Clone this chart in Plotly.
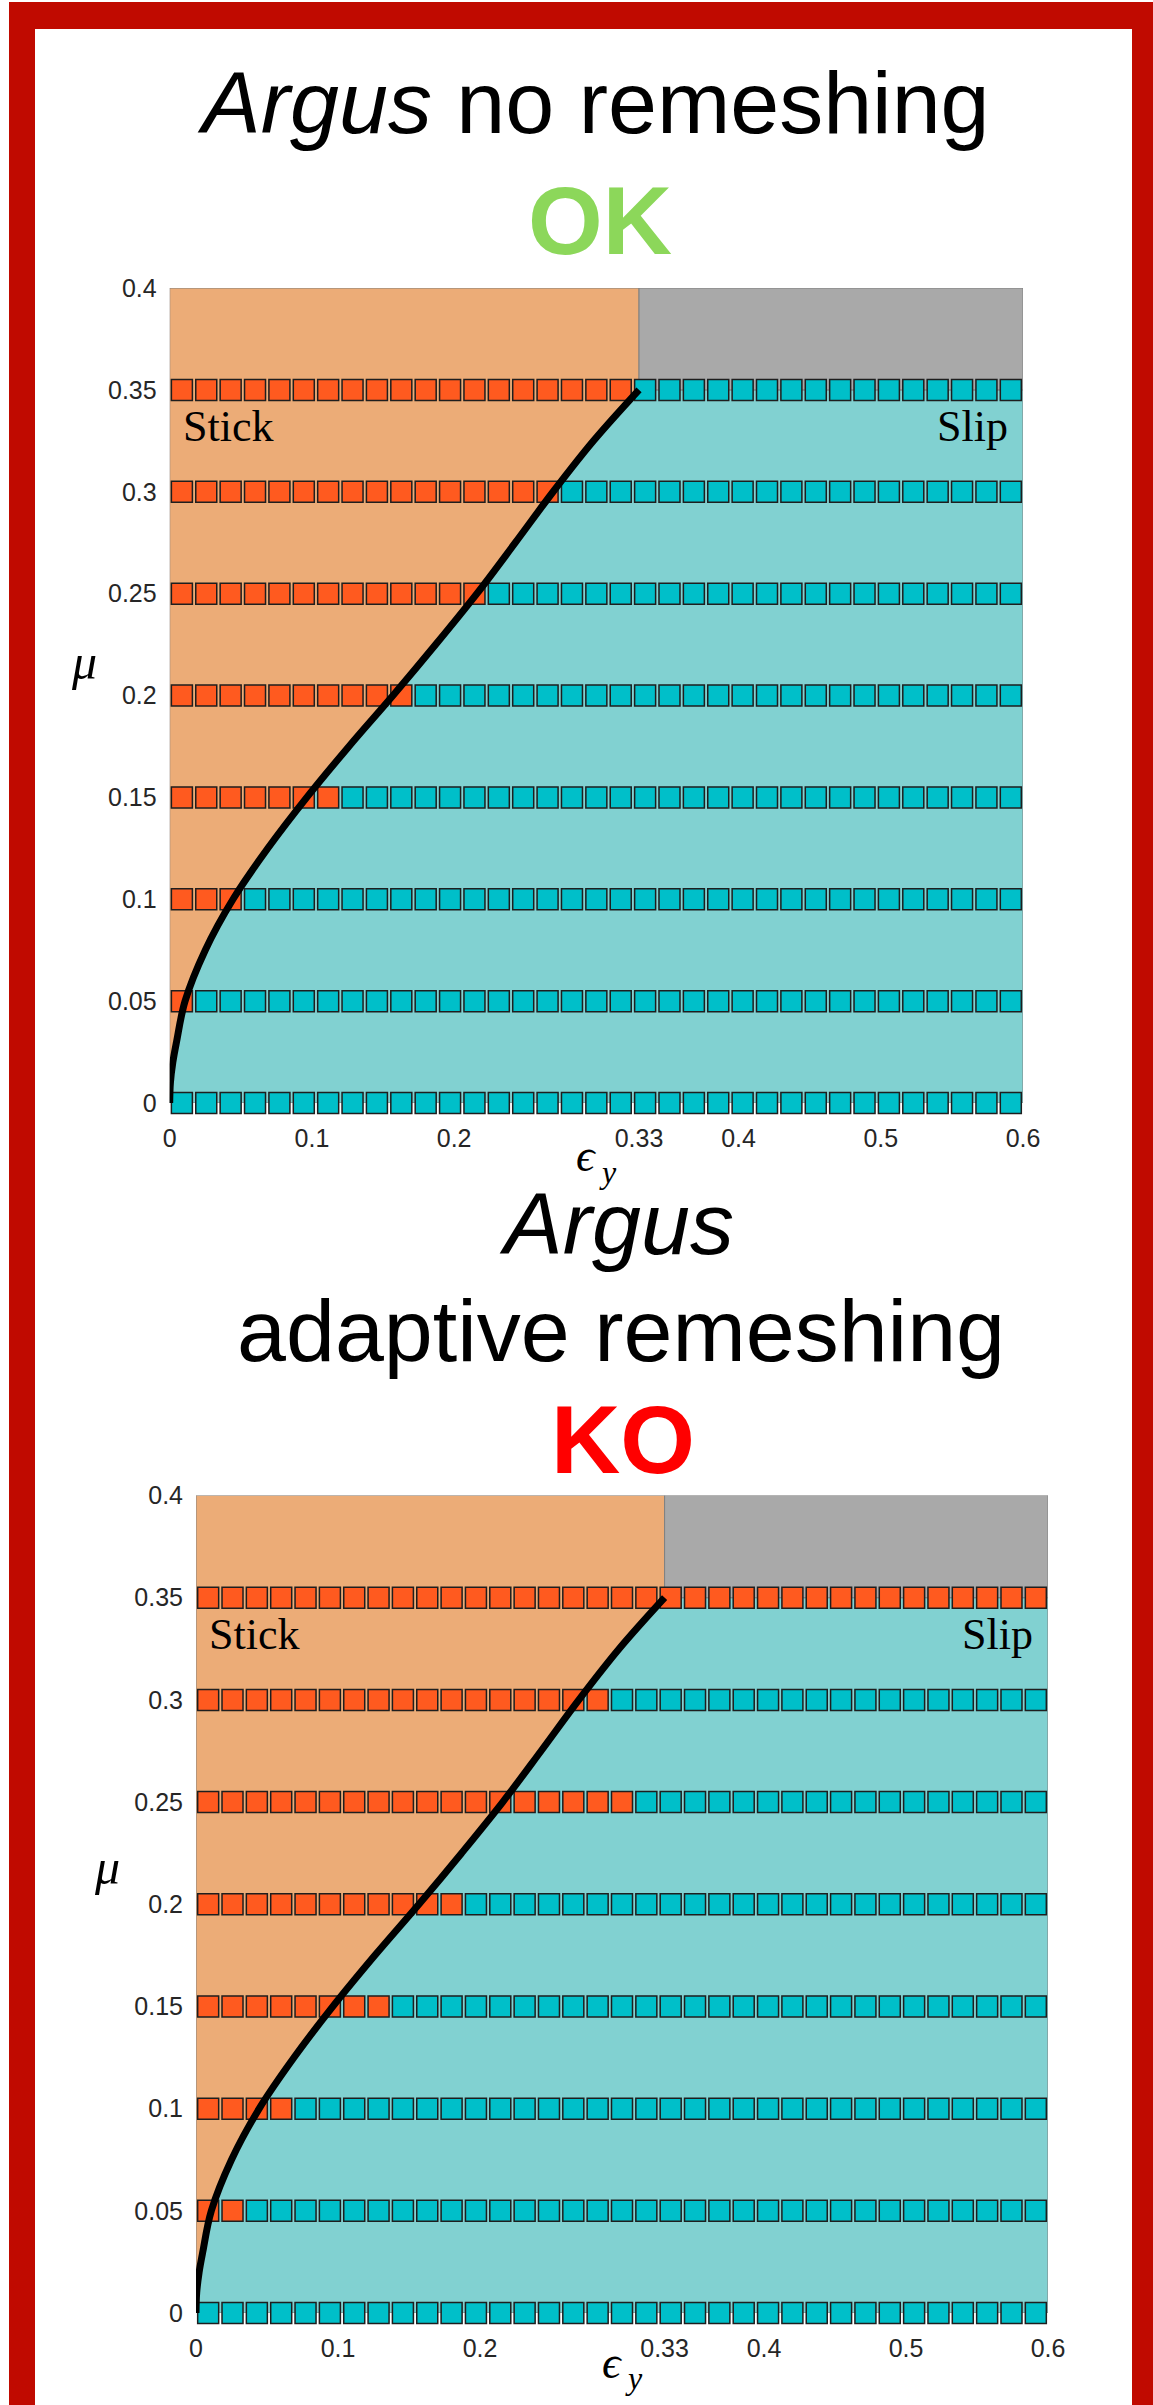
import plotly.graph_objects as go

W, H = 1153, 2405

# ---------------- data ----------------
mu_rows = [0.0, 0.05, 0.1, 0.15, 0.2, 0.25, 0.3, 0.35]
eps_cells = [0.00857, 0.02571, 0.04286, 0.06, 0.07714, 0.09429, 0.11143,
             0.12857, 0.14571, 0.16286, 0.18, 0.19714, 0.21429, 0.23143,
             0.24857, 0.26571, 0.28286, 0.3, 0.31714, 0.33429, 0.35143,
             0.36857, 0.38571, 0.40286, 0.42, 0.43714, 0.45429, 0.47143,
             0.48857, 0.50571, 0.52286, 0.54, 0.55714, 0.57429, 0.59143]

# S = stick (orange), L = slip (cyan); one string per mu row (bottom -> top)
ok_states = [
    "L" * 35,
    "S" * 1 + "L" * 34,
    "S" * 3 + "L" * 32,
    "S" * 7 + "L" * 28,
    "S" * 10 + "L" * 25,
    "S" * 13 + "L" * 22,
    "S" * 16 + "L" * 19,
    "S" * 19 + "L" * 16,
]
ko_states = [
    "L" * 35,
    "S" * 2 + "L" * 33,
    "S" * 4 + "L" * 31,
    "S" * 8 + "L" * 27,
    "S" * 11 + "L" * 24,
    "S" * 18 + "L" * 17,
    "S" * 17 + "L" * 18,
    "S" * 35,
]

# theoretical stick/slip boundary
curve_mu = [0.0, 0.01, 0.02, 0.03, 0.05, 0.075, 0.1, 0.125, 0.15, 0.175,
            0.2, 0.225, 0.25, 0.275, 0.3, 0.325, 0.35]
curve_eps = [0.0, 0.0005, 0.0022, 0.0048, 0.0108, 0.025, 0.0445, 0.069,
             0.0964, 0.126, 0.157, 0.187, 0.216, 0.243, 0.2696, 0.298, 0.33]

eps_split = 0.33
mu_top = 0.35
x_max, y_max = 0.6, 0.4

x_tickvals = [0, 0.1, 0.2, 0.33, 0.4, 0.5, 0.6]
x_ticktext = ["0", "0.1", "0.2", "0.33", "0.4", "0.5", "0.6"]
y_tickvals = [0, 0.05, 0.1, 0.15, 0.2, 0.25, 0.3, 0.35, 0.4]
y_ticktext = ["0", "0.05", "0.1", "0.15", "0.2", "0.25", "0.3", "0.35", "0.4"]

# ---------------- styles ----------------
C_STICK_BG = "#ECAC77"
C_SLIP_BG = "#81D1D1"
C_GRAY_BG = "#A9A9A9"
C_STICK = "#FF5A1F"
C_SLIP = "#00BFC9"
C_EDGE = "#808080"
SANS = "Liberation Sans, Arial, Helvetica, sans-serif"
SERIF = "Liberation Serif, DejaVu Serif, serif"


def px_x(p):
    return p / W


def px_y(p):
    return 1 - p / H


fig = go.Figure()


def add_panel(states, xa, ya):
    xr, yr = "x" + xa, "y" + ya
    # stick region (left of curve)
    fig.add_trace(go.Scatter(
        x=curve_eps + [eps_split, 0, 0],
        y=curve_mu + [y_max, y_max, 0],
        fill="toself", fillcolor=C_STICK_BG, mode="lines",
        line=dict(color=C_EDGE, width=1), hoverinfo="skip",
        xaxis=xr, yaxis=yr, showlegend=False))
    # slip region (right of curve)
    fig.add_trace(go.Scatter(
        x=curve_eps + [x_max, x_max, 0],
        y=curve_mu + [mu_top, 0, 0],
        fill="toself", fillcolor=C_SLIP_BG, mode="lines",
        line=dict(color=C_EDGE, width=1), hoverinfo="skip",
        xaxis=xr, yaxis=yr, showlegend=False))
    # unexplored region (gray)
    fig.add_trace(go.Scatter(
        x=[eps_split, x_max, x_max, eps_split, eps_split],
        y=[mu_top, mu_top, y_max, y_max, mu_top],
        fill="toself", fillcolor=C_GRAY_BG, mode="lines",
        line=dict(color=C_EDGE, width=1), hoverinfo="skip",
        xaxis=xr, yaxis=yr, showlegend=False))
    # simulation results
    xs, ys, cs = [], [], []
    for mu, row in zip(mu_rows, states):
        for e, s in zip(eps_cells, row):
            xs.append(e)
            ys.append(mu)
            cs.append(C_STICK if s == "S" else C_SLIP)
    fig.add_trace(go.Scatter(
        x=xs, y=ys, mode="markers",
        marker=dict(symbol="square", size=21, color=cs,
                    line=dict(color="#1E1E1E", width=1.5)),
        cliponaxis=False, hoverinfo="skip",
        xaxis=xr, yaxis=yr, showlegend=False))
    # boundary curve
    fig.add_trace(go.Scatter(
        x=curve_eps, y=curve_mu, mode="lines",
        line=dict(color="black", width=7, shape="spline"),
        cliponaxis=False, hoverinfo="skip",
        xaxis=xr, yaxis=yr, showlegend=False))
    # Stick / Slip labels
    fig.add_annotation(x=0.008, y=0.3322, xref=xr, yref=yr, text="Stick",
                       showarrow=False, xanchor="left", yanchor="middle",
                       font=dict(family=SERIF, size=44, color="black"))
    fig.add_annotation(x=0.591, y=0.3322, xref=xr, yref=yr, text="Slip",
                       showarrow=False, xanchor="right", yanchor="middle",
                       font=dict(family=SERIF, size=44, color="black"))


add_panel(ok_states, "", "")
add_panel(ko_states, "2", "2")

axis_common_x = dict(range=[0, x_max], showgrid=False, zeroline=False,
                     showline=False, tickmode="array", tickvals=x_tickvals,
                     ticktext=x_ticktext, ticks="outside", ticklen=13,
                     tickcolor="rgba(0,0,0,0)", automargin=False,
                     tickfont=dict(family=SANS, size=25, color="#262626"),
                     fixedrange=True)
axis_common_y = dict(range=[0, y_max], showgrid=False, zeroline=False,
                     showline=False, tickmode="array", tickvals=y_tickvals,
                     ticktext=y_ticktext, ticks="outside", ticklen=7,
                     tickcolor="rgba(0,0,0,0)", automargin=False,
                     tickfont=dict(family=SANS, size=25, color="#262626"),
                     fixedrange=True)

fig.update_layout(
    width=W, height=H, margin=dict(l=0, r=0, t=0, b=0, autoexpand=False),
    paper_bgcolor="white", plot_bgcolor="white",
    xaxis=dict(domain=[px_x(169.7), px_x(1023)], anchor="y", **axis_common_x),
    yaxis=dict(domain=[px_y(1103), px_y(288)], anchor="x", **axis_common_y),
    xaxis2=dict(domain=[px_x(196), px_x(1048)], anchor="y2", **axis_common_x),
    yaxis2=dict(domain=[px_y(2313), px_y(1495.5)], anchor="x2", **axis_common_y),
)

# red frame
RED = "#C00A00"
for x0, x1, y0, y1 in [(9, 35, 2, H), (1132, W, 2, H), (9, W, 2, 29)]:
    fig.add_shape(type="rect", xref="paper", yref="paper",
                  x0=px_x(x0), x1=px_x(x1), y0=px_y(y1), y1=px_y(y0),
                  fillcolor=RED, line=dict(width=0), layer="above")


# titles
def label(text, cx, cy, size, family=SANS, color="black"):
    fig.add_annotation(x=px_x(cx), y=px_y(cy), xref="paper", yref="paper",
                       text=text, showarrow=False, xanchor="center",
                       yanchor="middle", borderpad=0,
                       font=dict(family=family, size=size, color=color))


label("<i>Argus</i> no remeshing", 593.5, 102, 88)
label("<b>OK</b>", 599.5, 220, 96, color="#8CD75A")
label("<i>Argus</i>", 616, 1223, 88)
label("adaptive remeshing", 621, 1330, 88)
label("<b>KO</b>", 623, 1439, 96, color="#FF0000")

# axis labels (mu on the left, epsilon_y below)
label("<i>μ</i>", 84, 662, 50, family=SERIF)
label("<i>μ</i>", 107, 1867, 50, family=SERIF)
for ex, ey, sx, sy in [(586, 1155, 608, 1172), (612, 2362, 634, 2378)]:
    label("<i>ϵ</i>", ex, ey, 46, family=SERIF)
    label("<i>y</i>", sx, sy, 32, family=SERIF)

fig.write_html(
    "out.html",
    config={"displayModeBar": False},
    post_script="document.body.style.margin='0';"
                "document.body.style.padding='0';"
                "document.body.style.overflow='hidden';",
)
